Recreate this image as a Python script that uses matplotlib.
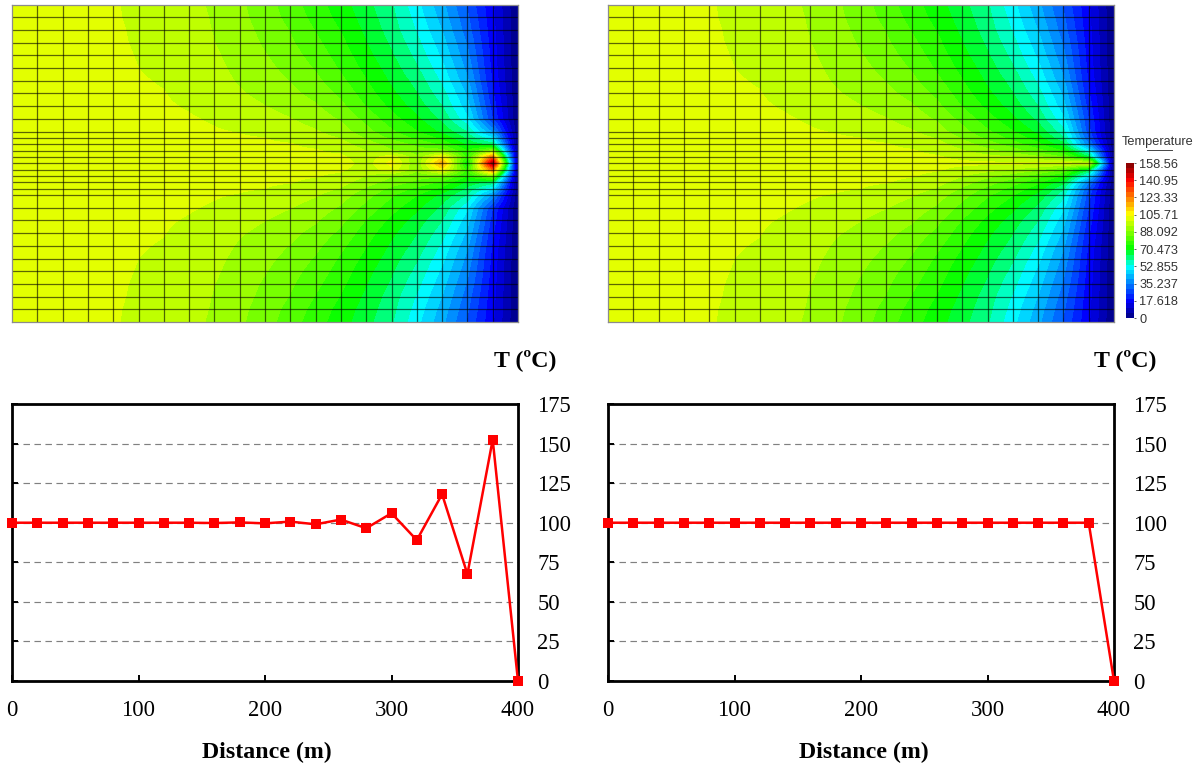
import numpy as np
import matplotlib
matplotlib.use("Agg")
import matplotlib.pyplot as plt
from matplotlib.colors import LinearSegmentedColormap, ListedColormap

W, H = 1200, 767

# ---------- line charts ----------
distance = [0, 20, 40, 60, 80, 100, 120, 140, 160, 180, 200, 220, 240, 260, 280, 300, 320, 340, 360, 380, 400]
temp_left = [100, 100, 100, 100, 100, 100, 100, 100, 99.8, 100.2, 99.6, 100.7, 99, 102, 96.5, 106, 89, 118, 67.5, 152.5, 0]
temp_right = [100, 100, 100, 100, 100, 100, 100, 100, 100, 100, 100, 100, 100, 100, 100, 100, 100, 100, 100, 100, 0]
y_ticks = [0, 25, 50, 75, 100, 125, 150, 175]
x_ticks = [0, 100, 200, 300, 400]

# ---------- temperature field, mesh nodes ----------
mesh_y_half = [125, 115, 105, 95, 85, 75, 65, 55, 45, 35, 25, 20, 15, 10, 5]  # then 0 on the centre line
col_000 = [100] * 15
col_020 = [100] * 15
col_040 = [99.9, 99.9, 99.9, 100, 100, 100, 100, 100, 100, 100, 100, 100, 100, 100, 100]
col_060 = [99.7, 99.7, 99.7, 99.8, 99.8, 99.9, 99.9, 100, 100, 100, 100, 100, 100, 100, 100]
col_080 = [99.3, 99.3, 99.4, 99.4, 99.5, 99.6, 99.7, 99.8, 99.9, 100, 100, 100, 100, 100, 100]
col_100 = [98.6, 98.7, 98.8, 98.9, 99.0, 99.1, 99.3, 99.5, 99.7, 99.9, 100, 100, 100, 100, 100]
col_120 = [97.5, 97.6, 97.8, 98, 98.3, 98.6, 98.9, 99.2, 99.5, 99.8, 99.9, 100, 100, 100, 100]
col_140 = [95.4, 95.6, 95.9, 96.2, 96.6, 97.0, 97.5, 98.1, 98.8, 99.4, 99.8, 99.9, 100, 100, 100]
col_160 = [93.4, 93.7, 93.9, 94.2, 94.8, 95.3, 96, 96.7, 97.6, 98.7, 99.4, 99.7, 99.9, 100, 100]
col_180 = [90, 90.4, 91, 91.6, 92.2, 92.9, 93.6, 94.6, 95.9, 97.3, 98.9, 99.5, 99.8, 100, 100]
col_200 = [86.5, 87, 87.8, 88.5, 89.5, 90.5, 91.5, 92.8, 94.2, 96, 98, 99.1, 99.6, 99.9, 100]
col_220 = [81.5, 82.5, 84, 85, 86.3, 87.6, 89, 90.5, 92.3, 94.3, 96.5, 98, 99.3, 99.8, 100]
col_240 = [76.5, 77.5, 79, 80.5, 82, 83.7, 85.5, 87.5, 89.8, 92, 94.6, 96.2, 98, 99.4, 99.9]
col_260 = [71.5, 72.5, 74, 75.5, 77, 78.5, 80.5, 83, 85.5, 88.5, 91.5, 93.8, 96, 98, 99.5]
col_280 = [66, 67, 68.2, 69.5, 71, 72.7, 74.5, 76.5, 79, 82.5, 86, 88.5, 91.5, 94.5, 98]
col_300 = [60, 61, 62, 63.5, 65, 66.8, 68.5, 70.5, 73, 76.3, 80, 83, 86.5, 90.5, 96]
col_320 = [51, 52.5, 54, 56, 58, 60, 62.5, 64.5, 67, 70.5, 74.5, 77.5, 81.5, 86.5, 94]
col_340 = [41, 42.5, 44.5, 46.5, 48.5, 51, 53.5, 56.5, 59.5, 63, 68, 71.5, 75.5, 81, 90]
col_360 = [29, 30.5, 32, 34, 36, 38, 40.5, 43.5, 46.5, 50.5, 56, 60, 66, 74, 84]
col_380 = [15.5, 16, 16.5, 17, 17.5, 18, 19, 20.5, 22.5, 24.5, 26.5, 29, 35, 50, 65]
col_400 = [0] * 15

# left panel: rows near the centre line differ for x = 260 ... 400
left_y25 = [91.5, 86, 80, 74.5, 68, 59, 38, 0]
left_y20 = [93.8, 88.5, 83, 78, 73, 63, 50, 0]
left_y15 = [96, 91.5, 87, 83, 78, 68, 62, 0]
left_y10 = [98, 94, 89.5, 86, 86, 74, 88, 0]
left_y05 = [100, 96, 102, 90, 106, 77, 124, 0]

# ---------- colour scale ----------
cb_ticks = [0, 17.618, 35.237, 52.855, 70.473, 88.092, 105.71, 123.33, 140.95, 158.56]
cb_labels = ["0", "17.618", "35.237", "52.855", "70.473", "88.092", "105.71", "123.33", "140.95", "158.56"]
cb_stops = ["#00007f", "#0000ff", "#0080ff", "#00ffff", "#00ff00", "#80ff00", "#ffff00", "#ff8000", "#ff0000", "#7f0000"]
n_bands = 32

base = LinearSegmentedColormap.from_list("fem", cb_stops, N=512)
cmap = ListedColormap([base((i + 0.5) / n_bands) for i in range(n_bands)])
levels = np.linspace(cb_ticks[0], cb_ticks[-1], n_bands + 1)

plt.rcParams["font.family"] = ["Liberation Serif", "DejaVu Serif"]
fig = plt.figure(figsize=(W / 100, H / 100), dpi=100)


def axes_px(x0, y0, x1, y1):
    return fig.add_axes([x0 / W, 1 - y1 / H, (x1 - x0) / W, (y1 - y0) / H])


half_right = np.column_stack([col_000, col_020, col_040, col_060, col_080, col_100, col_120,
                              col_140, col_160, col_180, col_200, col_220, col_240, col_260,
                              col_280, col_300, col_320, col_340, col_360, col_380, col_400])
half_left = half_right.copy()
for row, vals in zip(range(10, 15), [left_y25, left_y20, left_y15, left_y10, left_y05]):
    half_left[row, -8:] = vals

y_half = np.array(mesh_y_half, dtype=float)
mesh_y = np.concatenate([-y_half, [0.0], y_half[::-1]])
mesh_x = np.array(distance, dtype=float)


def refine(nodes, k=12):
    # sample points inside each mesh element, keeping the nodes themselves
    idx = np.arange(len(nodes))
    return np.interp(np.linspace(0, len(nodes) - 1, (len(nodes) - 1) * k + 1), idx, nodes)


def draw_field(ax, half, centre):
    field = np.vstack([half, centre, half[::-1]])
    # bilinear shape functions inside each mesh element
    fx, fy = refine(mesh_x), refine(mesh_y)
    by_row = np.array([np.interp(fx, mesh_x, r) for r in field])
    fine = np.array([np.interp(fy, mesh_y, c) for c in by_row.T]).T
    cs = ax.contourf(fx, fy, fine, levels=levels, cmap=cmap, antialiased=False)
    ax.vlines(mesh_x[1:-1], mesh_y.min(), mesh_y.max(), colors="black", lw=0.9, alpha=0.6)
    ax.hlines(mesh_y[1:-1], mesh_x.min(), mesh_x.max(), colors="black", lw=0.9, alpha=0.6)
    ax.set_xlim(mesh_x.min(), mesh_x.max())
    ax.set_ylim(mesh_y.min(), mesh_y.max())
    ax.set_xticks([])
    ax.set_yticks([])
    for s in ax.spines.values():
        s.set_color("#8c8c8c")
        s.set_linewidth(0.9)
    return cs


def draw_line(ax, values):
    ax.plot(distance, values, color="#ff0000", lw=1.8, marker="s", ms=7.2,
            mec="#ff0000", mew=0, clip_on=False, zorder=5)
    ax.set_xlim(distance[0], distance[-1])
    ax.set_ylim(y_ticks[0], y_ticks[-1])
    ax.set_xticks(x_ticks)
    ax.set_yticks(y_ticks)
    ax.yaxis.grid(True, color="#808080", lw=0.85, linestyle=(0, (5.5, 3.8)))
    ax.set_axisbelow(True)
    ax.tick_params(axis="x", direction="in", length=4.2, width=1.4, labelsize=16.3, pad=13.5)
    ax.tick_params(axis="y", direction="in", length=4.2, width=1.4, labelsize=16.3, pad=14,
                   left=True, right=False, labelleft=False, labelright=True)
    for s in ax.spines.values():
        s.set_linewidth(2.0)


ax_fl = axes_px(12, 4.5, 518, 322)
draw_field(ax_fl, half_left, temp_left)
ax_fr = axes_px(608, 4.5, 1114, 322)
cs = draw_field(ax_fr, half_right, temp_right)

ax_ll = axes_px(12, 404, 518, 681)
draw_line(ax_ll, temp_left)
ax_lr = axes_px(608, 404, 1114, 681)
draw_line(ax_lr, temp_right)

# colour bar
cax = axes_px(1126, 163, 1134, 318)
cb = fig.colorbar(cs, cax=cax, drawedges=False)
cb.set_ticks(cb_ticks)
cb.set_ticklabels(cb_labels)
cb.outline.set_visible(False)
cax.tick_params(length=1.5, width=0.6, color="#444444", pad=2.2, labelsize=9.2, labelcolor="#333333")
for t in cax.get_yticklabels():
    t.set_family(["Liberation Sans", "DejaVu Sans"])

fig.text(1158 / W, 1 - 142 / H, "Temperature", ha="center", va="center", fontsize=9.2,
         color="#333333", family=["Liberation Sans", "DejaVu Sans"])
fig.add_artist(plt.Line2D([1147 / W, 1172 / W], [1 - 150 / H, 1 - 150 / H], color="#444444", lw=0.7))

for cx in (525, 1125):
    fig.text(cx / W, 1 - 360 / H, "T (ºC)", ha="center", va="center", fontsize=17.2, fontweight="bold")
for cx in (267, 864):
    fig.text(cx / W, 1 - 752 / H, "Distance (m)", ha="center", va="center", fontsize=17.2, fontweight="bold")

fig.savefig("out.png", dpi=100)
